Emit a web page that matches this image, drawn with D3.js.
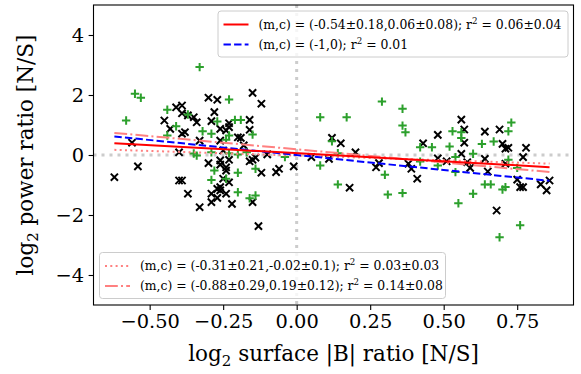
<!DOCTYPE html>
<html>
<head>
<meta charset="utf-8">
<script src="https://cdn.jsdelivr.net/npm/d3@7"></script>
<style>
  body { margin: 0; background: #fff; }
  text { font-family: 'DejaVu Serif', serif; fill: #000; }
</style>
</head>
<body>
<div class="chart"></div>
<script>
// black "x" sample
const blackX = [-0.62, -0.54, -0.56, -0.45, -0.41, -0.39, -0.39, -0.37, -0.35, -0.34, -0.43, -0.39, -0.38, -0.40,
  -0.40, -0.39, -0.37, -0.33, -0.30, -0.27, -0.15, -0.12, -0.28, -0.29, -0.23, -0.16, -0.16, -0.26, -0.24, -0.23,
  -0.26, -0.20, -0.19, -0.33, -0.18, -0.25, -0.10, -0.30, -0.26, -0.26, -0.23, -0.16, -0.15, -0.14, -0.24, -0.24,
  -0.12, -0.07, -0.06, -0.01, -0.25, -0.23, -0.26, -0.27, -0.26, -0.29, -0.27, -0.24, -0.29, -0.22, -0.15, -0.13,
  0.05, 0.11, 0.12, 0.15, 0.20, 0.18, 0.27, 0.28, 0.38, 0.39, 0.41, 0.43,
  0.56, 0.57, 0.48, 0.57, 0.56, 0.64, 0.69, 0.70, 0.71, 0.72, 0.78, 0.77, 0.48, 0.51, 0.58, 0.59, 0.64, 0.65,
  0.71, 0.75, 0.76, 0.77, 0.83, 0.85, 0.86, 0.68];
const blackY = [-0.74, -0.38, 0.41, 1.15, 1.59, 1.65, 1.39, 1.32, 1.26, 1.09, 0.87, 0.71, 0.76, 0.09,
  -0.85, -0.85, -1.29, -1.74, 1.91, 1.84, 2.07, 1.71, 1.43, 1.13, 1.06, 1.17, 0.84, 0.87, 0.82, 0.93,
  0.48, 0.59, 0.57, 0.48, 0.32, 0.15, 0.02, -0.27, -0.18, -0.32, -0.16, -0.21, -0.16, -0.09, -0.41, -0.52,
  -0.59, -0.57, -0.46, -0.38, -0.79, -0.91, -1.07, -1.13, -1.18, -1.29, -1.43, -1.29, -1.57, -1.63, -1.57, -2.37,
  -0.07, -0.13, 0.57, 0.39, 0.09, -1.09, -0.41, -0.27, -0.29, -0.46, -0.79, 0.39,
  1.18, 0.85, 0.67, 0.41, 0.04, 0.78, 0.85, 0.37, 0.21, 0.24, 0.24, -0.07, -0.11, -0.21, -0.24, -0.43, -0.13, -0.55,
  -0.29, -0.82, -1.07, -1.07, -0.98, -1.18, -0.85, -1.85];

// green "+" sample
const greenX = [-0.55, -0.53, -0.58, -0.44, -0.41, -0.44, -0.37, -0.33, -0.35, -0.34, -0.23, -0.21, -0.19, -0.27,
  -0.32, -0.29, -0.23, -0.15, -0.24, -0.29, -0.23, -0.20, -0.17, -0.04, -0.28, -0.20, -0.14, -0.29, -0.24, -0.20,
  -0.16, -0.14,
  0.08, 0.17, 0.29, 0.36, 0.36, 0.37, 0.12, 0.14, 0.08, 0.30, 0.14, 0.31, 0.36, 0.42, 0.42,
  0.73, 0.53, 0.56, 0.56, 0.72, 0.52, 0.46, 0.63, 0.67, 0.60, 0.54, 0.72, 0.48, 0.54, 0.75, 0.64, 0.66, 0.70,
  0.71, 0.60, 0.55, 0.76, 0.69];
const greenY = [2.04, 1.91, 1.15, 1.51, 0.96, 0.65, 1.35, 2.93, 0.05, -0.02, 1.85, 1.17, 1.17, 1.12,
  0.79, 0.71, 0.65, 0.68, 0.51, 0.09, 0.06, 0.02, 0.09, -0.07, -0.52, -0.59, -0.46, -0.83, -0.79, -1.24,
  -1.44, -1.35,
  1.26, 1.26, 1.78, 1.54, 0.98, 0.76, 0.46, 0.06, -0.35, -0.66, -0.98, -1.32, -1.27, 0.26, -0.22,
  1.08, 0.79, 0.76, 0.57, 0.79, 0.28, 0.26, 0.37, 0.45, 0.04, -0.07, -0.16, -0.35, -0.57, -0.43, -0.98, -0.98, -1.15,
  -1.07, -1.29, -1.61, -2.34, -2.74];

// fitted lines y = m x + c
const fitSlopes = [-0.54, -1, -0.31, -0.88];
const fitIntercepts = [0.06, 0, -0.02, 0.19];
const fitLabels = [
  ['(m,c) = (-0.54±0.18,0.06±0.08); r', ' = 0.06±0.04'],
  ['(m,c) = (-1,0); r', ' = 0.01'],
  ['(m,c) = (-0.31±0.21,-0.02±0.1); r', ' = 0.03±0.03'],
  ['(m,c) = (-0.88±0.29,0.19±0.12); r', ' = 0.14±0.08']
];
const fitColors = ['#ff0000', '#0000ff', '#ff8080', '#ff8080'];
const fitDashes = [null, '7.4,3.2', '2,3.3', '12.8,3.2,2,3.2'];

const xTicks = [-0.5, -0.25, 0, 0.25, 0.5, 0.75];
const yTicks = [-4, -2, 0, 2, 4];

const w = 581;
const h = 374;
const pLeft = 93.5;
const pRight = 573.5;
const pTop = 5;
const pBottom = 305;

const svg = d3
  .select('.chart')
  .append('svg')
  .attr('width', w)
  .attr('height', h);

const xScale = d3.scaleLinear().domain([-0.691, 0.9415]).range([pLeft, pRight]);
const yScale = d3.scaleLinear().domain([-5, 5]).range([pBottom, pTop]);

// zero reference lines
const grey = svg.append('g');
grey
  .append('line')
  .attr('x1', pLeft)
  .attr('x2', pRight)
  .attr('y1', yScale(0))
  .attr('y2', yScale(0));
grey
  .append('line')
  .attr('x1', xScale(0))
  .attr('x2', xScale(0))
  .attr('y1', pTop)
  .attr('y2', pBottom);
grey
  .selectAll('line')
  .attr('stroke', '#cccccc')
  .attr('stroke-width', 3)
  .attr('stroke-dasharray', '3,5');

// scatter
const s = 3.6;
svg
  .append('g')
  .selectAll('path')
  .data(blackX)
  .enter()
  .append('path')
  .attr('transform', (d, i) => `translate(${xScale(d)},${yScale(blackY[i])})`)
  .attr('d', `M${-s},${-s}L${s},${s}M${-s},${s}L${s},${-s}`)
  .attr('stroke', '#000')
  .attr('stroke-width', 2);

svg
  .append('g')
  .selectAll('path')
  .data(greenX)
  .enter()
  .append('path')
  .attr('transform', (d, i) => `translate(${xScale(d)},${yScale(greenY[i])})`)
  .attr('d', `M${-s - 0.6},0H${s + 0.6}M0,${-s - 0.6}V${s + 0.6}`)
  .attr('stroke', '#2ca02c')
  .attr('stroke-width', 2);

// fits over the data range
const xExt = d3.extent(blackX.concat(greenX));
const lineGen = d3
  .line()
  .x((d) => xScale(d[0]))
  .y((d) => yScale(d[1]));

const drawOrder = [3, 2, 1, 0];
drawOrder.forEach((k) => {
  svg
    .append('path')
    .datum(xExt.map((x) => [x, fitSlopes[k] * x + fitIntercepts[k]]))
    .attr('d', lineGen)
    .attr('fill', 'none')
    .attr('stroke', fitColors[k])
    .attr('stroke-width', 2)
    .attr('stroke-dasharray', fitDashes[k]);
});

// axes
const xAxis = d3
  .axisBottom(xScale)
  .tickValues(xTicks)
  .tickFormat(d3.format('.2f'))
  .tickSize(4.9)
  .tickPadding(4.5)
  .tickSizeOuter(0);
const yAxis = d3
  .axisLeft(yScale)
  .tickValues(yTicks)
  .tickFormat(d3.format('d'))
  .tickSize(4.9)
  .tickPadding(4.5)
  .tickSizeOuter(0);

const gx = svg
  .append('g')
  .attr('transform', `translate(0,${pBottom})`)
  .call(xAxis);
const gy = svg
  .append('g')
  .attr('transform', `translate(${pLeft},0)`)
  .call(yAxis);
[gx, gy].forEach((g) => {
  g.select('.domain').remove();
  g.selectAll('line').attr('stroke', '#000').attr('stroke-width', 1.1);
  g.selectAll('text').style('font-family', "'DejaVu Serif', serif").style('font-size', '19.4px');
});

svg
  .append('rect')
  .attr('x', pLeft)
  .attr('y', pTop)
  .attr('width', pRight - pLeft)
  .attr('height', pBottom - pTop)
  .attr('fill', 'none')
  .attr('stroke', '#000')
  .attr('stroke-width', 1.1);

// axis labels
const xl = svg
  .append('text')
  .attr('x', (pLeft + pRight) / 2)
  .attr('y', 361)
  .attr('text-anchor', 'middle')
  .style('font-size', '21.5px');
xl.append('tspan').text('log');
xl.append('tspan').attr('dy', 4.5).style('font-size', '15px').text('2');
xl.append('tspan').attr('dy', -4.5).text(' surface |B| ratio [N/S]');

const yl = svg
  .append('text')
  .attr('transform', `translate(33,${(pTop + pBottom) / 2}) rotate(-90)`)
  .attr('text-anchor', 'middle')
  .style('font-size', '21.5px');
yl.append('tspan').text('log');
yl.append('tspan').attr('dy', 4.5).style('font-size', '15px').text('2');
yl.append('tspan').attr('dy', -4.5).text(' power ratio [N/S]');

// legends
function legend(items, x, y, wd) {
  const g = svg.append('g').attr('transform', `translate(${x},${y})`);
  g.append('rect')
    .attr('x', 0.5)
    .attr('y', 0.5)
    .attr('width', wd)
    .attr('height', 46)
    .attr('rx', 3)
    .attr('fill', '#fff')
    .attr('fill-opacity', 0.8)
    .attr('stroke', '#cccccc')
    .attr('stroke-width', 1);
  items.forEach((k, i) => {
    const cy = 14 + i * 20;
    g.append('line')
      .attr('x1', 6)
      .attr('x2', 31)
      .attr('y1', cy)
      .attr('y2', cy)
      .attr('stroke', fitColors[k])
      .attr('stroke-width', 2)
      .attr('stroke-dasharray', fitDashes[k]);
    const t = g
      .append('text')
      .attr('x', 41)
      .attr('y', cy + 4.3)
      .style('font-size', '12.4px');
    t.append('tspan').text(fitLabels[k][0]);
    t.append('tspan').attr('dy', -5).style('font-size', '8.7px').text('2');
    t.append('tspan').attr('dy', 5).text(fitLabels[k][1]);
  });
}
legend([0, 1], 217.5, 10.5, 350);
legend([2, 3], 99, 252, 346);
</script>
</body>
</html>
